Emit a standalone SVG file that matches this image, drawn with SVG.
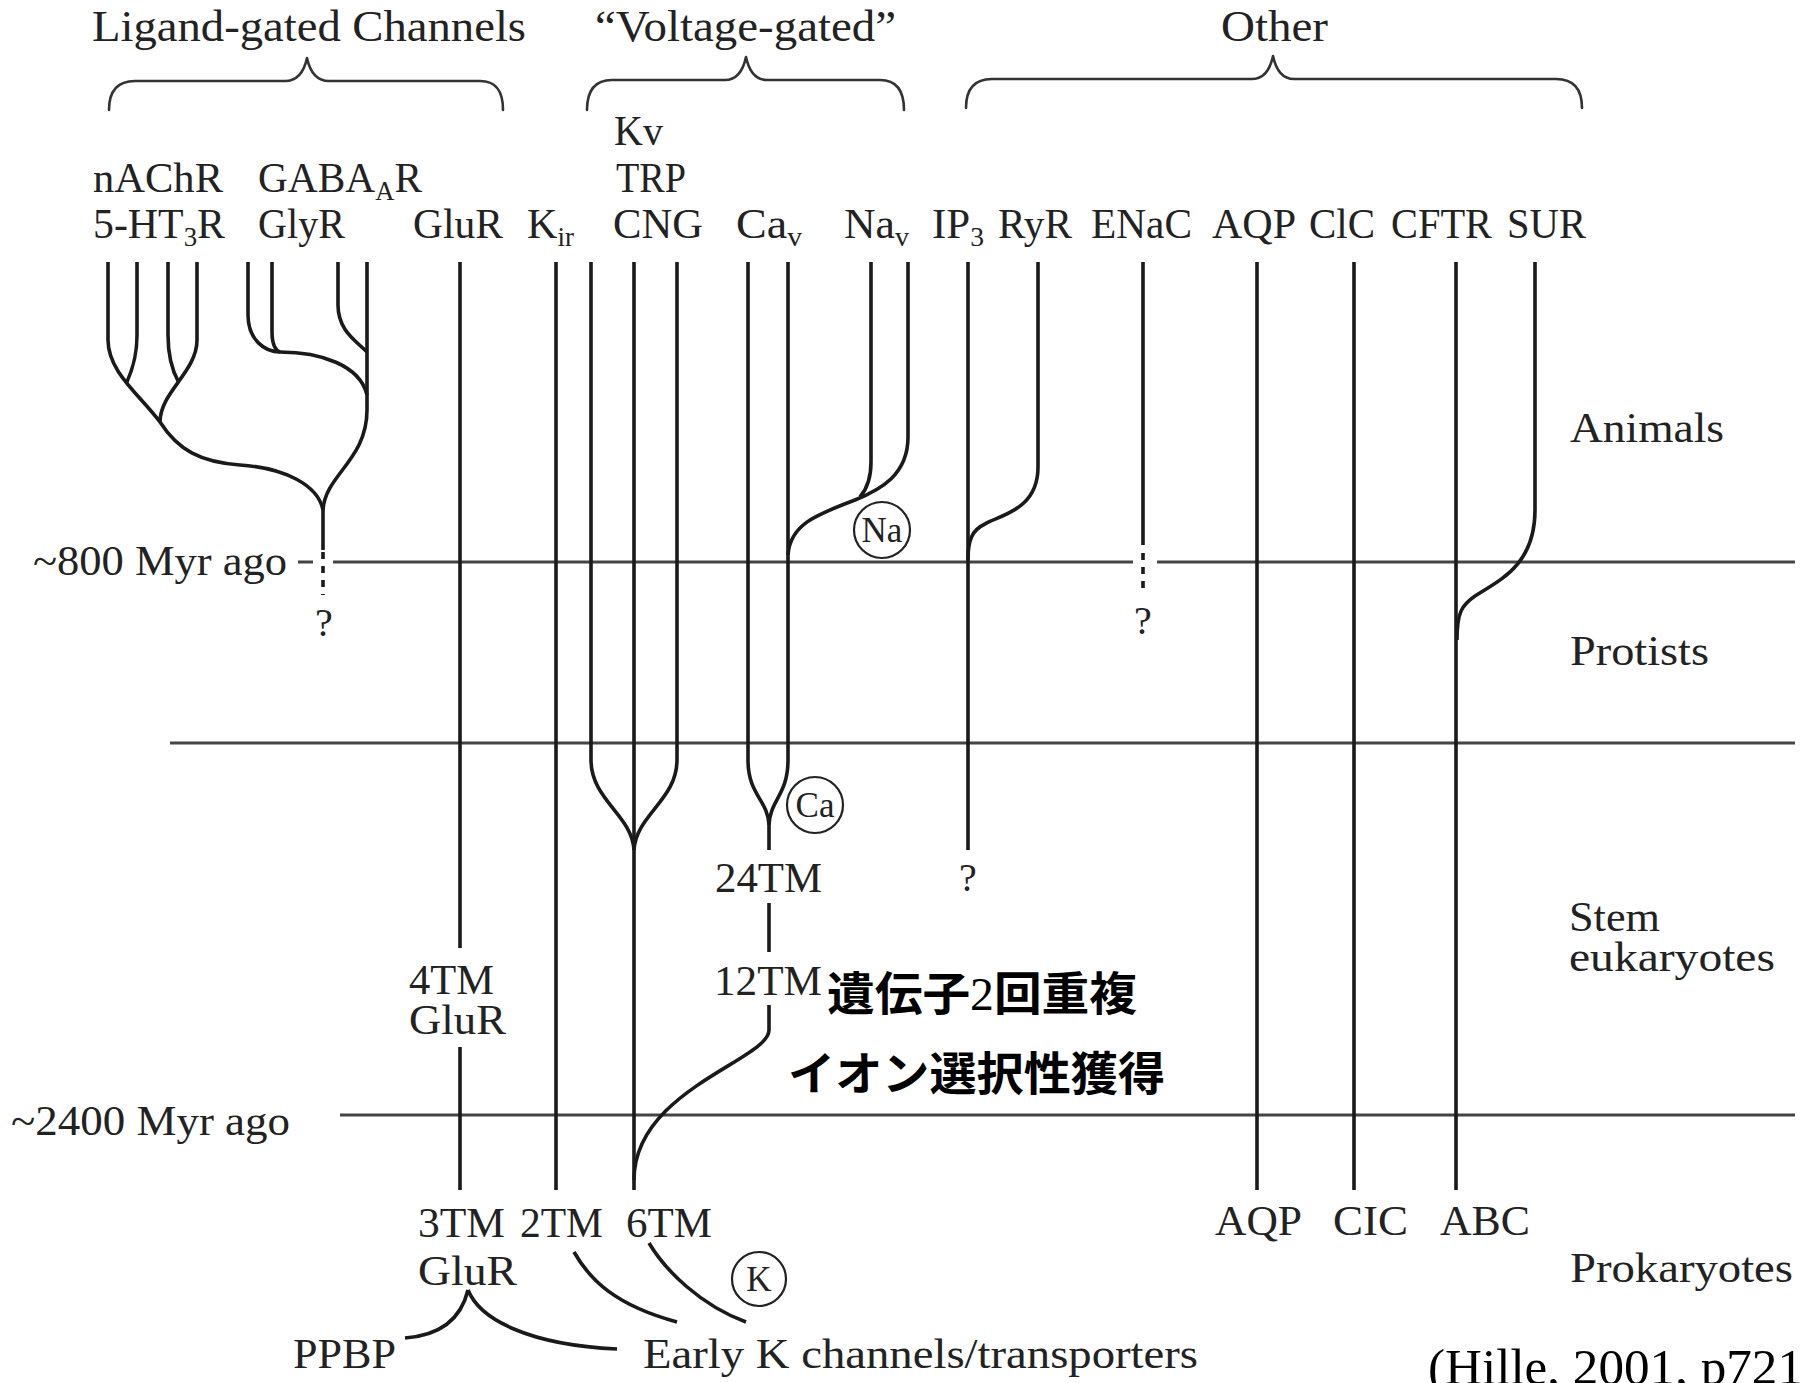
<svg xmlns="http://www.w3.org/2000/svg" width="1806" height="1383" viewBox="0 0 1806 1383">
<style>
text{font-family:"Liberation Serif","Times New Roman",serif;fill:#222;}
.h{font-size:44px;}
.l{font-size:42px;}
.s{font-size:27px;}
.c{font-size:35px;text-anchor:middle;}
.q{font-size:40px;text-anchor:middle;}
.jp{font-family:"Noto Sans CJK JP","Noto Sans CJK SC",sans-serif;font-size:46px;font-weight:700;fill:#000;}
.dg{font-family:"Liberation Serif","Times New Roman",serif;font-weight:400;}
.cite{font-size:51px;fill:#000;}
.br{fill:none;stroke:#333;stroke-width:2.6;stroke-linecap:round;stroke-linejoin:round;}
.tl{fill:none;stroke:#444;stroke-width:2.8;}
.ln{fill:none;stroke:#1a1a1a;stroke-width:3.6;stroke-linecap:butt;stroke-linejoin:round;}
.ds{fill:none;stroke:#1a1a1a;stroke-width:3.6;stroke-dasharray:7 7;}
.ring{fill:#fff;stroke:#222;stroke-width:2.2;}
</style>
<rect width="1806" height="1383" fill="#fff"/>

<g id="headers">
<g id="hdr-ligand"><text class="h" x="92" y="41" textLength="434" lengthAdjust="spacingAndGlyphs">Ligand-gated Channels</text></g>
<g id="hdr-voltage"><text class="h" x="595" y="41" textLength="301" lengthAdjust="spacingAndGlyphs">“Voltage-gated”</text></g>
<g id="hdr-other"><text class="h" x="1221" y="41" textLength="107" lengthAdjust="spacingAndGlyphs">Other</text></g>
</g>

<g id="braces">
<path class="br" d="M109 110 C109 92 116 81 135 81 L285 81 C297 81 304 72 307 58 C310 72 317 81 329 81 L480 81 C497 81 503 92 503 110"/>
<path class="br" d="M587 110 C587 92 594 80 612 80 L725 80 C737 80 743 71 746 57 C749 71 755 80 767 80 L880 80 C897 80 904 92 904 110"/>
<path class="br" d="M966 108 C966 90 973 79 992 79 L1252 79 C1264 79 1270 70 1273 56 C1276 70 1282 79 1294 79 L1556 79 C1575 79 1582 90 1582 108"/>
</g>

<g id="timelines">
<path class="tl" d="M298 562 H313 M333 562 H1133 M1157 562 H1795"/>
<path class="tl" d="M170 743 H1795"/>
<path class="tl" d="M340 1115 H1795"/>
</g>

<g id="connectors">
<path class="ln" d="M108 262 V340 C108 372 140 395 160 422 C178 450 200 462 240 465 C285 468 318 485 323 510 V550"/>
<path class="ln" d="M137 262 V335 C137 360 130 375 126.5 383"/>
<path class="ln" d="M168 262 V335 C168 357 173 372 178.5 382"/>
<path class="ln" d="M197 262 V340 C197 372 160 392 160 422"/>
<path class="ln" d="M248 262 V315 C248 340 265 352 280 352 C320 352 360 365 367 395"/>
<path class="ln" d="M272 262 V332 C272 345 276 351 280 352"/>
<path class="ln" d="M338 262 V305 C338 330 355 340 367 352"/>
<path class="ln" d="M367 262 V410 C367 460 325 475 323 510"/>
<path class="ds" d="M323 552 V595"/>
<path class="ln" d="M460 262 V948 M460 1047 V1190"/>
<path class="ln" d="M556 262 V1190"/>
<path class="ln" d="M634 262 V1190"/>
<path class="ln" d="M591 262 V760 C591 800 632 815 634 850"/>
<path class="ln" d="M677 262 V760 C677 800 636 815 634 850"/>
<path class="ln" d="M748 262 V760 C748 795 768 800 769 825 V850"/>
<path class="ln" d="M788 262 V760 C788 795 770 800 769 825"/>
<path class="ln" d="M769 903 V952"/>
<path class="ln" d="M769 1005 V1030 C769 1060 634 1090 634 1180"/>
<path class="ln" d="M871 262 V462 C871 480 866 490 860 497"/>
<path class="ln" d="M908 262 V437 C908 475 880 490 855 500 C815 515 790 525 788 555"/>
<path class="ln" d="M968 262 V850"/>
<path class="ln" d="M1038 262 V467 C1038 510 1000 515 985 524 C972 530 968 540 968 560"/>
<path class="ln" d="M1143 262 V545"/>
<path class="ds" d="M1143 553 V595"/>
<path class="ln" d="M1257 262 V1190"/>
<path class="ln" d="M1354 262 V1190"/>
<path class="ln" d="M1456 262 V1190"/>
<path class="ln" d="M1535 262 V510 C1535 565 1500 580 1475 596 C1462 605 1457 612 1457 640"/>
<path class="ln" d="M574 1252 C590 1280 615 1305 677 1322"/>
<path class="ln" d="M649 1243 C665 1270 700 1305 746 1322"/>
<path class="ln" d="M468 1290 C462 1315 445 1335 405 1338"/>
<path class="ln" d="M468 1290 C480 1320 530 1345 617 1349"/>
</g>

<g id="top-labels">
<g id="n-Kv"><text class="l" x="614" y="145" textLength="49" lengthAdjust="spacingAndGlyphs">Kv</text></g>
<g id="n-nAChR"><text class="l" x="93" y="192" textLength="130" lengthAdjust="spacingAndGlyphs">nAChR</text></g>
<g id="n-GABAAR"><text class="l" x="258" y="192" textLength="164" lengthAdjust="spacingAndGlyphs">GABA<tspan class="s" dy="8">A</tspan><tspan dy="-8">R</tspan></text></g>
<g id="n-TRP"><text class="l" x="616" y="192" textLength="70" lengthAdjust="spacingAndGlyphs">TRP</text></g>
<g id="n-5HT3R"><text class="l" x="93" y="238" textLength="132" lengthAdjust="spacingAndGlyphs">5-HT<tspan class="s" dy="8">3</tspan><tspan dy="-8">R</tspan></text></g>
<g id="n-GlyR"><text class="l" x="258" y="238" textLength="87" lengthAdjust="spacingAndGlyphs">GlyR</text></g>
<g id="n-GluR"><text class="l" x="413" y="238" textLength="90" lengthAdjust="spacingAndGlyphs">GluR</text></g>
<g id="n-Kir"><text class="l" x="527" y="238" textLength="47" lengthAdjust="spacingAndGlyphs">K<tspan class="s" dy="8">ir</tspan></text></g>
<g id="n-CNG"><text class="l" x="613" y="238" textLength="90" lengthAdjust="spacingAndGlyphs">CNG</text></g>
<g id="n-Cav"><text class="l" x="736" y="238" textLength="66" lengthAdjust="spacingAndGlyphs">Ca<tspan class="s" dy="8">v</tspan></text></g>
<g id="n-Nav"><text class="l" x="844" y="238" textLength="65" lengthAdjust="spacingAndGlyphs">Na<tspan class="s" dy="8">v</tspan></text></g>
<g id="n-IP3"><text class="l" x="932" y="238" textLength="52" lengthAdjust="spacingAndGlyphs">IP<tspan class="s" dy="8">3</tspan></text></g>
<g id="n-RyR"><text class="l" x="998" y="238" textLength="74" lengthAdjust="spacingAndGlyphs">RyR</text></g>
<g id="n-ENaC"><text class="l" x="1091" y="238" textLength="101" lengthAdjust="spacingAndGlyphs">ENaC</text></g>
<g id="n-AQP"><text class="l" x="1212" y="238" textLength="84" lengthAdjust="spacingAndGlyphs">AQP</text></g>
<g id="n-ClC"><text class="l" x="1309" y="238" textLength="66" lengthAdjust="spacingAndGlyphs">ClC</text></g>
<g id="n-CFTR"><text class="l" x="1391" y="238" textLength="101" lengthAdjust="spacingAndGlyphs">CFTR</text></g>
<g id="n-SUR"><text class="l" x="1507" y="238" textLength="79" lengthAdjust="spacingAndGlyphs">SUR</text></g>
</g>

<g id="time-labels">
<g id="t-800"><text class="l" x="33" y="575" textLength="254" lengthAdjust="spacingAndGlyphs">~800 Myr ago</text></g>
<g id="t-2400"><text class="l" x="11" y="1135" textLength="279" lengthAdjust="spacingAndGlyphs">~2400 Myr ago</text></g>
<g id="t-animals"><text class="l" x="1570" y="442" textLength="154" lengthAdjust="spacingAndGlyphs">Animals</text></g>
<g id="t-protists"><text class="l" x="1570" y="665" textLength="139" lengthAdjust="spacingAndGlyphs">Protists</text></g>
<g id="t-stem"><text class="l" x="1569" y="931" textLength="91" lengthAdjust="spacingAndGlyphs">Stem</text><text class="l" x="1569" y="971" textLength="206" lengthAdjust="spacingAndGlyphs">eukaryotes</text></g>
<g id="t-prok"><text class="l" x="1570" y="1282" textLength="223" lengthAdjust="spacingAndGlyphs">Prokaryotes</text></g>
</g>

<g id="mid-labels">
<g id="q1"><text class="q" x="324" y="636">?</text></g>
<g id="q2"><text class="q" x="1143" y="634">?</text></g>
<g id="q3"><text class="q" x="968" y="891">?</text></g>
<g id="m-24TM"><text class="l" x="715" y="892" textLength="107" lengthAdjust="spacingAndGlyphs">24TM</text></g>
<g id="m-12TM"><text class="l" x="714" y="995" textLength="108" lengthAdjust="spacingAndGlyphs">12TM</text></g>
<g id="m-4TM"><text class="l" x="409" y="994" textLength="85" lengthAdjust="spacingAndGlyphs">4TM</text><text class="l" x="409" y="1034" textLength="97" lengthAdjust="spacingAndGlyphs">GluR</text></g>
<g id="c-Na"><circle class="ring" cx="882" cy="530" r="28"/><text class="c" x="882" y="542">Na</text></g>
<g id="c-Ca"><circle class="ring" cx="815" cy="805" r="28"/><text class="c" x="815" y="817">Ca</text></g>
<g id="c-K"><circle class="ring" cx="759" cy="1279" r="27"/><text class="c" x="759" y="1291">K</text></g>
<g id="jp1"><text class="jp" x="827" y="1010" textLength="310" lengthAdjust="spacingAndGlyphs">遺伝子<tspan class="dg">2</tspan>回重複</text></g>
<g id="jp2"><text class="jp" x="788" y="1090" textLength="377" lengthAdjust="spacingAndGlyphs">イオン選択性獲得</text></g>
</g>

<g id="bottom-labels">
<g id="b-3TM"><text class="l" x="418" y="1237" textLength="87" lengthAdjust="spacingAndGlyphs">3TM</text><text class="l" x="418" y="1285" textLength="99" lengthAdjust="spacingAndGlyphs">GluR</text></g>
<g id="b-2TM"><text class="l" x="520" y="1237" textLength="83" lengthAdjust="spacingAndGlyphs">2TM</text></g>
<g id="b-6TM"><text class="l" x="626" y="1237" textLength="86" lengthAdjust="spacingAndGlyphs">6TM</text></g>
<g id="b-AQP"><text class="l" x="1215" y="1235" textLength="87" lengthAdjust="spacingAndGlyphs">AQP</text></g>
<g id="b-CIC"><text class="l" x="1333" y="1235" textLength="75" lengthAdjust="spacingAndGlyphs">CIC</text></g>
<g id="b-ABC"><text class="l" x="1440" y="1235" textLength="90" lengthAdjust="spacingAndGlyphs">ABC</text></g>
<g id="b-PPBP"><text class="l" x="293" y="1368" textLength="103" lengthAdjust="spacingAndGlyphs">PPBP</text></g>
<g id="b-early"><text class="l" x="643" y="1368" textLength="555" lengthAdjust="spacingAndGlyphs">Early K channels/transporters</text></g>
<g id="cite"><text class="cite" x="1428" y="1384" textLength="375" lengthAdjust="spacingAndGlyphs">(Hille, 2001, p721</text></g>
</g>
</svg>
